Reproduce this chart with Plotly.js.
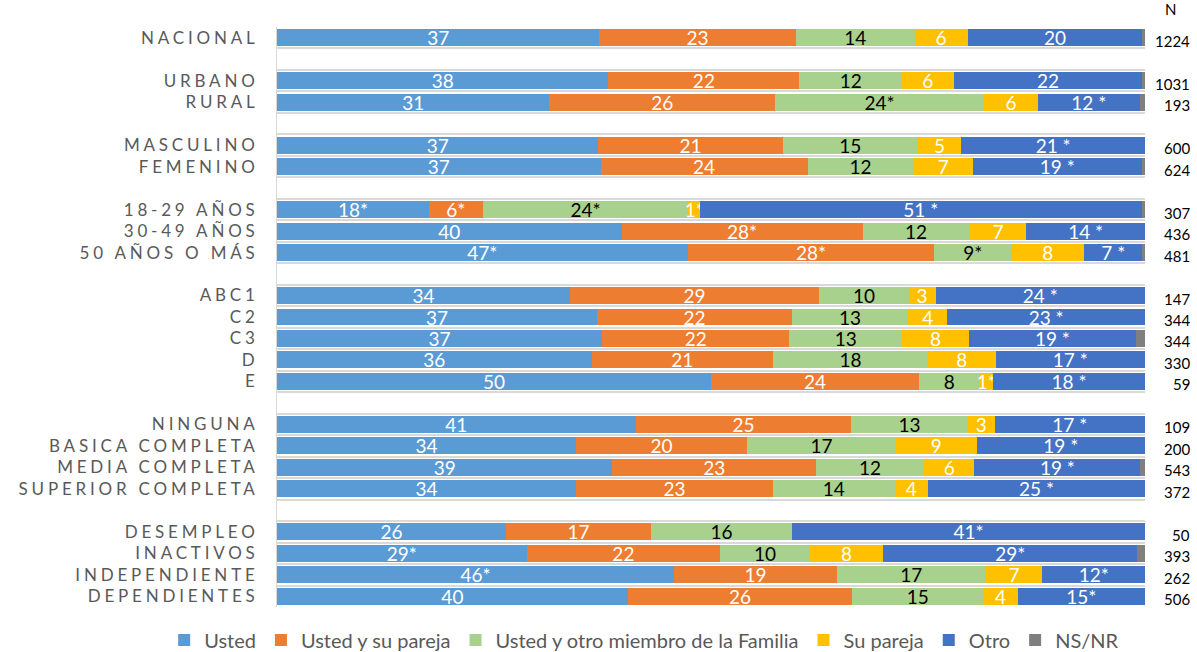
<!DOCTYPE html>
<html>
<head>
<meta charset="utf-8">
<script src="https://cdn.plot.ly/plotly-3.0.1.min.js"></script>
<style>
  html, body { margin: 0; padding: 0; background: #fff; }
  #chart { width: 1197px; height: 652px; }
  .ytick text { letter-spacing: 3.8px; }
</style>
</head>
<body>
<div id="chart"></div>
<script>
// ---- Data ----
const categories = ["NACIONAL","URBANO","RURAL","MASCULINO","FEMENINO","18-29 AÑOS","30-49 AÑOS","50 AÑOS O MÁS",
  "ABC1","C2","C3","D","E","NINGUNA","BASICA COMPLETA","MEDIA COMPLETA","SUPERIOR COMPLETA",
  "DESEMPLEO","INACTIVOS","INDEPENDIENTE","DEPENDIENTES"];
const groupEnds = ["NACIONAL","RURAL","FEMENINO","50 AÑOS O MÁS","E","SUPERIOR COMPLETA"];

const seriesNames = ["Usted","Usted y su pareja","Usted y otro miembro de la Familia","Su pareja","Otro","NS/NR"];

const usted    = [37.13,38.17,31.37,37.02,37.29,17.53,39.71,47.32,33.75,36.87,37.44,36.25,50.01,41.33,34.44,38.63,34.44,26.37,28.76,45.74,40.41];
const ustedPareja = [22.65,22.02,26.02,21.26,23.83,6.16,27.75,28.41,28.72,22.45,21.60,20.88,23.95,24.83,19.69,23.49,22.69,16.72,22.29,18.77,25.86];
const ustedFamilia = [13.67,11.81,24.07,15.52,12.22,23.70,12.34,8.87,10.29,13.41,12.96,17.87,6.99,13.41,17.18,12.42,14.02,16.26,10.34,17.13,15.11];
const suPareja = [6.12,5.95,6.22,5.04,6.85,1.35,6.53,8.42,3.12,4.50,7.73,7.79,1.54,3.11,9.29,5.80,3.85,0,8.46,6.54,3.95];
const otro     = [20.11,21.73,11.69,21.16,19.41,50.86,13.67,6.66,24.12,22.77,19.21,17.21,17.51,17.32,19.40,19.14,25.00,40.65,29.25,11.82,14.67];
const nsnr     = [0.32,0.32,0.63,0,0.40,0.40,0,0.32,0,0,1.06,0,0,0,0,0.52,0,0,0.90,0,0];

const ustedLbl   = ["37","38","31","37","37","18*","40","47*","34","37","37","36","50","41","34","39","34","26","29*","46*","40"];
const ustedParejaLbl = ["23","22","26","21","24","6*","28*","28*","29","22","22","21","24","25","20","23","23","17","22","19","26"];
const ustedFamiliaLbl = ["14","12","24*","15","12","24*","12","9*","10","13","13","18","8","13","17","12","14","16","10","17","15"];
const suParejaLbl = ["6","6","6","5","7","1*","7","8","3","4","8","8","1*","3","9","6","4","","8","7","4"];
const otroLbl    = ["20","22","12 *","21 *","19 *","51 *","14 *","7 *","24 *","23 *","19 *","17 *","18 *","17 *","19 *","19 *","25 *","41*","29*","12*","15*"];
const nValues    = [1224,1031,193,600,624,307,436,481,147,344,344,330,59,109,200,543,372,50,393,262,506];

// ---- Styles ----
const colors = ["#5B9BD5","#ED7D31","#A9D18E","#FFC000","#4472C4","#7F7F7F"];
const textColors = ["#FFFFFF","#FFFFFF","#000000","#FFFFFF","#FFFFFF","#FFFFFF"];
const FONT = "Lato, 'Open Sans', sans-serif";

// category order with blank spacer rows between groups
const axisCats = [];
let gapIdx = 1;
categories.forEach(c => {
  axisCats.push(c);
  if (groupEnds.includes(c)) { axisCats.push(" ".repeat(gapIdx)); gapIdx++; }
});

const values = [usted, ustedPareja, ustedFamilia, suPareja, otro, nsnr];
const labels = [ustedLbl, ustedParejaLbl, ustedFamiliaLbl, suParejaLbl, otroLbl, null];

const traces = values.map((v, i) => ({
  type: "bar",
  orientation: "h",
  name: seriesNames[i],
  y: categories,
  x: v,
  marker: { color: colors[i], line: { width: 0 } },
  text: labels[i] || undefined,
  textposition: labels[i] ? "inside" : "none",
  insidetextanchor: "middle",
  textangle: 0,
  insidetextfont: { family: FONT, size: 19, color: textColors[i] },
  hoverinfo: "x+name"
}));

const annotations = categories.map((c, i) => ({
  xref: "paper", yref: "y",
  x: 1.054, y: c,
  xanchor: "right", yanchor: "middle",
  yshift: -3,
  text: String(nValues[i]),
  showarrow: false,
  font: { family: FONT, size: 15, color: "#000000" }
}));
annotations.push({
  xref: "paper", yref: "paper",
  x: 1.029, y: 1.012,
  xanchor: "center", yanchor: "bottom",
  text: "N",
  showarrow: false,
  font: { family: FONT, size: 15, color: "#000000" }
});

const layout = {
  width: 1197, height: 652,
  margin: { l: 277, r: 52, t: 27, b: 45, autoexpand: false },
  barmode: "stack",
  bargap: 0.21,
  paper_bgcolor: "#FFFFFF",
  plot_bgcolor: "#FFFFFF",
  font: { family: FONT, color: "#595959" },
  uniformtext: { mode: "show", minsize: 19 },
  xaxis: {
    range: [0, 100],
    showgrid: false, zeroline: false, showticklabels: false, ticks: "", showline: false,
    fixedrange: true
  },
  yaxis: {
    type: "category",
    categoryorder: "array",
    categoryarray: axisCats,
    range: [axisCats.length - 0.5, -0.5],
    tickson: "boundaries",
    showgrid: true, gridcolor: "#D9D9D9", gridwidth: 2,
    showline: true, linecolor: "#D9D9D9", linewidth: 1,
    ticks: "",
    ticklabelstandoff: 14,
    tickfont: { family: FONT, size: 17, color: "#595959" },
    fixedrange: true
  },
  showlegend: true,
  legend: {
    orientation: "h",
    xref: "paper", yref: "paper",
    x: -0.13, xanchor: "left",
    y: -0.057, yanchor: "middle",
    font: { family: FONT, size: 20, color: "#595959" },
    itemwidth: 30,
    tracegroupgap: 0,
    traceorder: "normal",
    bgcolor: "rgba(0,0,0,0)"
  },
  annotations: annotations
};

Plotly.newPlot("chart", traces, layout, { displayModeBar: false, staticPlot: true });
</script>
</body>
</html>
